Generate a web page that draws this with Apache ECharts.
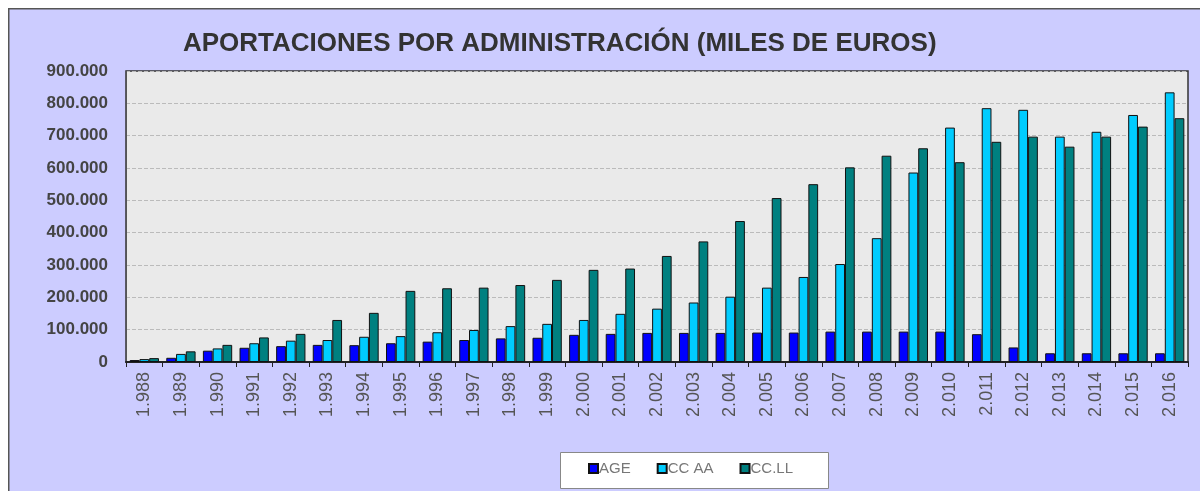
<!DOCTYPE html>
<html>
<head>
<meta charset="utf-8">
<style>
html, body { margin: 0; padding: 0; background: #fff; }
#main { width: 1200px; height: 491px; }
</style>
<script src="https://cdn.jsdelivr.net/npm/echarts@6/dist/echarts.min.js"></script>
</head>
<body>
<div id="main"></div>
<script>
// años
var years = ['1.988', '1.989', '1.990', '1.991', '1.992', '1.993', '1.994', '1.995', '1.996', '1.997',
    '1.998', '1.999', '2.000', '2.001', '2.002', '2.003', '2.004', '2.005', '2.006', '2.007',
    '2.008', '2.009', '2.010', '2.011', '2.012', '2.013', '2.014', '2.015', '2.016'];

// miles de euros
var age = [6000, 13000, 35000, 44000, 49000, 53000, 52000, 58000, 63000, 68000,
    73000, 75000, 84000, 87000, 90000, 90000, 90000, 91000, 91000, 94000,
    94000, 94000, 94000, 86000, 45000, 27000, 27000, 27000, 27000];
var ccaa = [9000, 25000, 42000, 58000, 66000, 68000, 78000, 80000, 92000, 99000,
    111000, 118000, 130000, 149000, 165000, 184000, 202000, 230000, 263000, 303000,
    383000, 586000, 725000, 785000, 780000, 697000, 712000, 764000, 834000];
var ccll = [12000, 33000, 53000, 76000, 87000, 130000, 152000, 220000, 228000, 230000,
    238000, 254000, 285000, 289000, 328000, 373000, 436000, 507000, 550000, 602000,
    638000, 661000, 618000, 681000, 697000, 666000, 697000, 728000, 754000];

var yTicks = [0, 100000, 200000, 300000, 400000, 500000, 600000, 700000, 800000, 900000];

function miles(v) {
    return String(v).replace(/\B(?=(\d{3})+(?!\d))/g, '.');
}

var myChart = echarts.init(document.getElementById('main'));
var font = 'Liberation Sans, Arial, sans-serif';

var option = {
    animation: false,
    textStyle: { fontFamily: font },
    graphic: [
        {
            type: 'rect',
            left: 8, top: 8, z: -10,
            shape: { width: 1200, height: 500 },
            style: { fill: '#ccccff', stroke: '#555', lineWidth: 1.5 }
        },
        {
            type: 'rect',
            left: 560, top: 452, z: -5,
            shape: { width: 268, height: 36 },
            style: { fill: '#fff', stroke: '#888', lineWidth: 1 }
        }
    ],
    title: {
        text: 'APORTACIONES POR ADMINISTRACIÓN (MILES DE EUROS)',
        left: 183, top: 31,
        padding: 0,
        textStyle: { fontSize: 26, fontWeight: 'bold', color: '#333', fontFamily: font }
    },
    legend: {
        data: ['AGE', 'CC AA', 'CC.LL'],
        left: 588, top: 461,
        padding: 0,
        itemWidth: 9, itemHeight: 9,
        itemGap: 26,
        icon: 'rect',
        textStyle: { fontSize: 15, color: '#777', padding: [0, 0, 0, -4] }
    },
    grid: {
        left: 126, right: 12, top: 71, bottom: 129,
        show: true,
        backgroundColor: '#eaeaea',
        borderColor: '#333',
        borderWidth: 1.5
    },
    xAxis: {
        type: 'category',
        data: years,
        axisLine: { lineStyle: { color: '#222', width: 2 } },
        axisTick: { show: true, length: 5, lineStyle: { color: '#222' } },
        axisLabel: { rotate: 90, margin: 10, fontSize: 18, color: '#555', fontFamily: font }
    },
    yAxis: {
        type: 'value',
        min: 0, max: 900000, interval: 100000,
        axisLine: { show: true, lineStyle: { color: '#555' } },
        axisTick: { show: false },
        splitLine: { lineStyle: { color: '#bbb', type: 'dashed' } },
        axisLabel: {
            margin: 18, fontSize: 17, fontWeight: 'bold', color: '#444', fontFamily: font,
            formatter: function (v) { return yTicks.indexOf(v) >= 0 ? miles(v) : ''; }
        }
    },
    series: [
        {
            name: 'AGE', type: 'bar', data: age,
            barGap: '0%', barCategoryGap: '20%',
            itemStyle: { color: '#0000ff', borderColor: '#111', borderWidth: 1 }
        },
        {
            name: 'CC AA', type: 'bar', data: ccaa,
            itemStyle: { color: '#00ccff', borderColor: '#111', borderWidth: 1 }
        },
        {
            name: 'CC.LL', type: 'bar', data: ccll,
            itemStyle: { color: '#008080', borderColor: '#111', borderWidth: 1 }
        }
    ]
};
myChart.setOption(option);
</script>
</body>
</html>
